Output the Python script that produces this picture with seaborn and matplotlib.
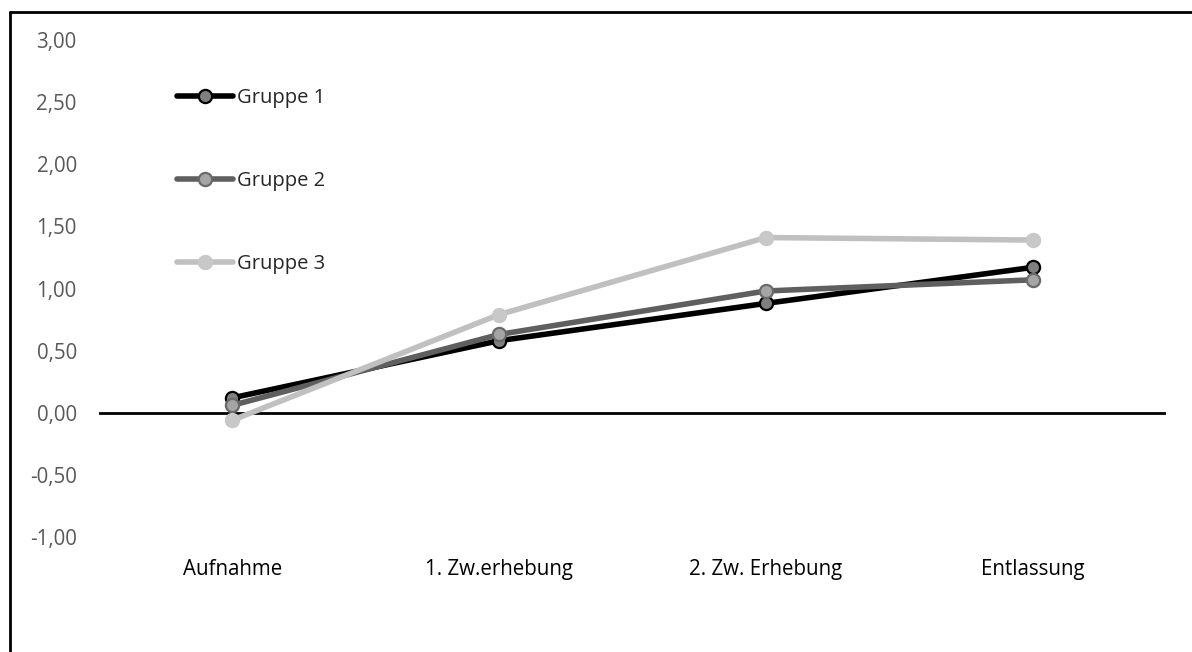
import matplotlib
matplotlib.use("Agg")
import matplotlib.pyplot as plt
from matplotlib.lines import Line2D
from matplotlib.ticker import FuncFormatter, MultipleLocator
import seaborn as sns
import pandas as pd

# Measurement points and mean values per group
zeitpunkte = ["Aufnahme", "1. Zw.erhebung", "2. Zw. Erhebung", "Entlassung"]
gruppe_1 = [0.12, 0.58, 0.88, 1.17]
gruppe_2 = [0.06, 0.63, 0.98, 1.07]
gruppe_3 = [-0.06, 0.79, 1.41, 1.39]
gruppen = ["Gruppe 1", "Gruppe 2", "Gruppe 3"]

# line colour, marker face, marker edge
stile = {
    "Gruppe 1": ("#000000", "#7f7f7f", "#000000"),
    "Gruppe 2": ("#5f5f5f", "#a5a5a5", "#6a6a6a"),
    "Gruppe 3": ("#c0c0c0", "#c8c8c8", "#c8c8c8"),
}

df = pd.DataFrame({
    "Zeitpunkt": zeitpunkte * 3,
    "Wert": gruppe_1 + gruppe_2 + gruppe_3,
    "Gruppe": [g for g in gruppen for _ in zeitpunkte],
})

sns.set_theme(style="white")
plt.rcParams["font.family"] = ["Open Sans", "DejaVu Sans"]

fig = plt.figure(figsize=(11.92, 6.52), dpi=100)
ax = fig.add_axes([99 / 1192, 1 - 537 / 652, (1166 - 99) / 1192, (537 - 40) / 652])

for g in gruppen:
    lc, fc, ec = stile[g]
    sns.lineplot(
        data=df[df["Gruppe"] == g], x="Zeitpunkt", y="Wert", ax=ax,
        sort=False, color=lc, linewidth=4.0, marker="o", markersize=9.5,
        markerfacecolor=fc, markeredgecolor=ec, markeredgewidth=1.6,
        label=g, zorder=3,
    )

ax.set_xlim(-0.5, len(zeitpunkte) - 0.5)
ax.set_ylim(-1.0, 3.0)
ax.yaxis.set_major_locator(MultipleLocator(0.5))
ax.yaxis.set_major_formatter(FuncFormatter(lambda v, _: f"{v:.2f}".replace(".", ",")))
ax.set_xlabel("")
ax.set_ylabel("")

for s in ax.spines.values():
    s.set_visible(False)
ax.axhline(0, color="black", linewidth=2, zorder=2)

ax.tick_params(axis="y", length=0, pad=16, labelsize=14.8, labelcolor="#595959")
ax.tick_params(axis="x", length=0, pad=16, labelsize=14.8, labelcolor="black")

leg = ax.legend(
    loc="upper left", bbox_to_anchor=(177 / 1192, 1 - 88 / 652),
    bbox_transform=fig.transFigure, frameon=False, fontsize=14.5,
    handlelength=2.8, handletextpad=0.2, labelspacing=3.12,
    borderpad=0, borderaxespad=0, numpoints=1,
)

# frame around the chart (left and top edges fall inside the image)
fig.add_artist(Line2D([9.5 / 1192, 9.5 / 1192], [0, 1 - 11.5 / 652],
                      transform=fig.transFigure, color="black", linewidth=2))
fig.add_artist(Line2D([9.5 / 1192, 1], [1 - 11.5 / 652, 1 - 11.5 / 652],
                      transform=fig.transFigure, color="black", linewidth=2))

fig.savefig("out.png", dpi=100)
